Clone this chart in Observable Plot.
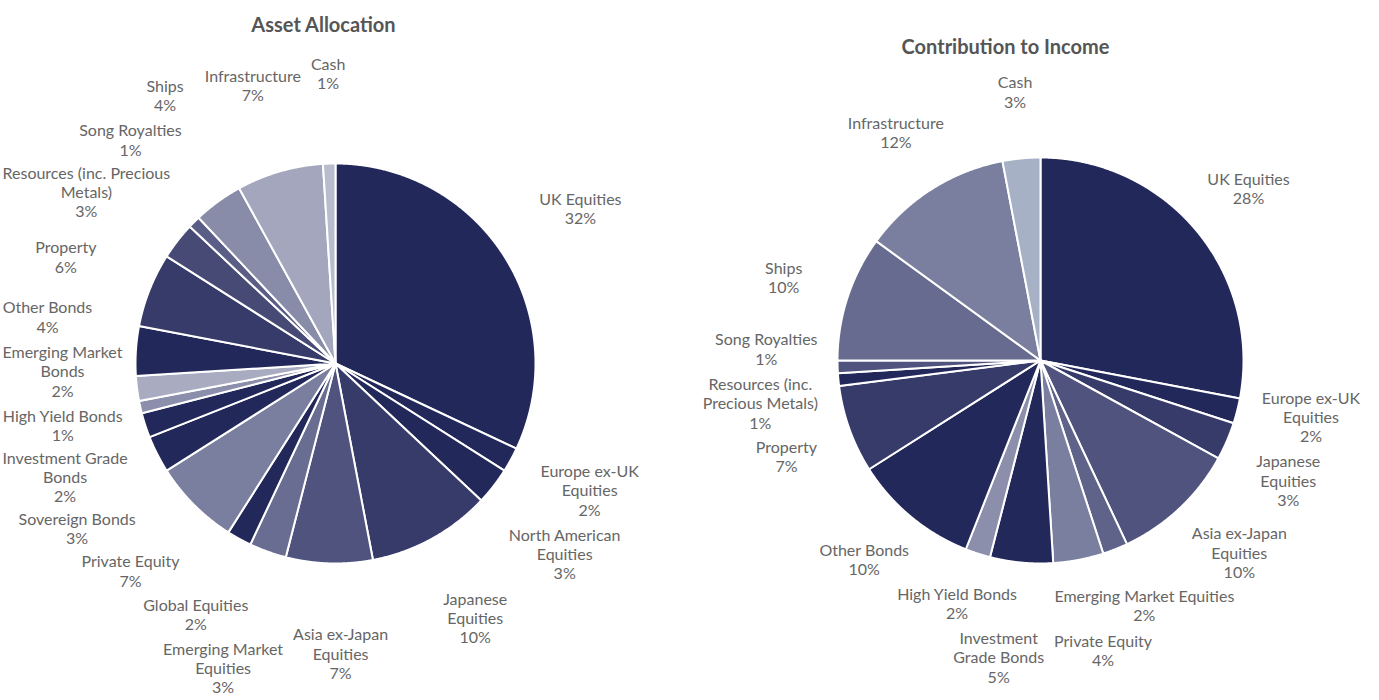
<!DOCTYPE html>
<html><head><meta charset="utf-8">
<script src="https://cdn.jsdelivr.net/npm/d3@7"></script>
<script src="https://cdn.jsdelivr.net/npm/@observablehq/plot@0.6"></script>
<style>
html,body{margin:0;padding:0;background:#fff;font-family:Lato,"Open Sans",sans-serif}
#wrap{display:flex;width:1379px;height:700px;overflow:hidden}
#wrap svg{display:block}
</style></head><body><div id="wrap"></div>
<script>
// ---------- Asset Allocation ----------
const allocCategories = ["UK Equities","Europe ex-UK Equities","North American Equities","Japanese Equities","Asia ex-Japan Equities","Emerging Market Equities","Global Equities","Private Equity","Sovereign Bonds","Investment Grade Bonds","High Yield Bonds","Emerging Market Bonds","Other Bonds","Property","Resources (inc. Precious Metals)","Song Royalties","Ships","Infrastructure","Cash"];
const allocValues = [32,2,3,10,7,3,2,7,3,2,1,2,4,6,3,1,4,7,1];
const allocLabels = ["UK Equities","Europe ex-UK\nEquities","North American\nEquities","Japanese\nEquities","Asia ex-Japan\nEquities","Emerging Market\nEquities","Global Equities","Private Equity","Sovereign Bonds","Investment Grade\nBonds","High Yield Bonds","Emerging Market\nBonds","Other Bonds","Property","Resources (inc. Precious\nMetals)","Song Royalties","Ships","Infrastructure","Cash"];
const allocColors = ["#23285b","#23285b","#23285b","#363b69","#4f537e","#696d92","#23285b","#7a7e9f","#23285b","#23285b","#8c8fab","#a9acc1","#23285b","#363b69","#464a75","#5a5e86","#888ca8","#a3a6bd","#b9bccd"];

// ---------- Contribution to Income ----------
const incomeCategories = ["UK Equities","Europe ex-UK Equities","Japanese Equities","Asia ex-Japan Equities","Emerging Market Equities","Private Equity","Investment Grade Bonds","High Yield Bonds","Other Bonds","Property","Resources (inc. Precious Metals)","Song Royalties","Ships","Infrastructure","Cash"];
const incomeValues = [28,2,3,10,2,4,5,2,10,7,1,1,10,12,3];
const incomeLabels = ["UK Equities","Europe ex-UK\nEquities","Japanese\nEquities","Asia ex-Japan\nEquities","Emerging Market Equities","Private Equity","Investment\nGrade Bonds","High Yield Bonds","Other Bonds","Property","Resources (inc.\nPrecious Metals)","Song Royalties","Ships","Infrastructure","Cash"];
const incomeColors = ["#23285b","#23285b","#363b69","#4f537e","#5f6389","#7a7e9f","#23285b","#8c8fab","#23285b","#363b69","#23285b","#4f537e","#676b90","#7b7f9f","#a7b1c6"];

const FONT = "Lato";
const FS = 16, LINE_PX = 19.3, LH = LINE_PX / FS;
const TEXT_COLOR = "#666666";
const TITLE_COLOR = "#555555";
const H = 700;

const ctx = document.createElement("canvas").getContext("2d");
ctx.font = `${FS}px ${FONT}`;

function layoutLabels(texts, mids, W, cx, cy, r, k, padY) {
  const items = texts.map((t, i) => {
    const lines = t.split("\n");
    const w = d3.max(lines, l => ctx.measureText(l).width) + 4;
    const h = lines.length * LINE_PX;
    const a = mids[i];
    const tx = cx + k * r * Math.sin(a), ty = cy - k * r * Math.cos(a);
    return {x: tx, y: ty, tx, ty, w, h};
  });
  const padX = 6, gap = 18;
  for (let it = 0; it < 400; ++it) {
    for (const b of items) { b.x += (b.tx - b.x) * 0.03; b.y += (b.ty - b.y) * 0.03; }
    for (let i = 0; i < items.length; ++i) for (let j = i + 1; j < items.length; ++j) {
      const A = items[i], B = items[j];
      const dx = B.x - A.x, dy = B.y - A.y;
      const ox = (A.w + B.w) / 2 + padX - Math.abs(dx);
      const oy = (A.h + B.h) / 2 + padY - Math.abs(dy);
      if (ox > 0 && oy > 0) {
        if (oy <= ox) { const s = dy >= 0 ? 1 : -1; A.y -= s * oy / 2; B.y += s * oy / 2; }
        else { const s = dx >= 0 ? 1 : -1; A.x -= s * ox / 2; B.x += s * ox / 2; }
      }
    }
    for (const b of items) {
      const nx = Math.max(b.x - b.w / 2, Math.min(cx, b.x + b.w / 2));
      const ny = Math.max(b.y - b.h / 2, Math.min(cy, b.y + b.h / 2));
      const d = Math.hypot(nx - cx, ny - cy);
      if (d < r + gap) {
        const vx = b.x - cx, vy = b.y - cy, vl = Math.hypot(vx, vy) || 1;
        const push = r + gap - d;
        b.x += vx / vl * push; b.y += vy / vl * push;
      }
      b.x = Math.max(b.w / 2, Math.min(W - b.w / 2, b.x));
      b.y = Math.max(b.h / 2 + 2, Math.min(H - b.h / 2 - 2, b.y));
    }
  }
  return items;
}

function pieChart({title, categories, values, labels, colors, W, cx, cy, r, k, padY, titleY, titleX}) {
  const arcs = d3.pie().sort(null).value(d => d)(values);
  const slices = [];
  arcs.forEach((a, i) => {
    const n = Math.max(2, Math.ceil((a.endAngle - a.startAngle) / (Math.PI / 720)) + 1);
    slices.push({id: categories[i], color: colors[i], x: 0, y: 0});
    for (let s = 0; s < n; ++s) {
      const t = a.startAngle + (a.endAngle - a.startAngle) * s / (n - 1);
      slices.push({id: categories[i], color: colors[i], x: Math.sin(t), y: Math.cos(t)});
    }
    slices.push({id: categories[i], color: colors[i], x: 0, y: 0});
  });
  const mids = arcs.map(a => (a.startAngle + a.endAngle) / 2);
  const texts = labels.map((l, i) => `${l}\n${values[i]}%`);
  const boxes = layoutLabels(texts, mids, W, cx, cy, r, k, padY);
  const labelRows = texts.map((t, i) => ({text: t, x: (boxes[i].x - cx) / r, y: (cy - boxes[i].y) / r}));
  return Plot.plot({
    width: W, height: H, margin: 0,
    style: {fontFamily: FONT, background: "white", overflow: "visible"},
    x: {domain: [-cx / r, (W - cx) / r], range: [0, W], axis: null},
    y: {domain: [-(H - cy) / r, cy / r], range: [H, 0], axis: null},
    color: {type: "identity"},
    marks: [
      Plot.line(slices, {x: "x", y: "y", z: "id", fill: "color", stroke: "white", strokeWidth: 2, strokeLinejoin: "round", curve: "linear"}),
      Plot.text(labelRows, {x: "x", y: "y", text: "text", fill: TEXT_COLOR, fontSize: FS, lineHeight: LH, textAnchor: "middle", lineAnchor: "middle"}),
      Plot.text([title], {frameAnchor: "top", dy: titleY, dx: titleX - W / 2, lineAnchor: "middle", fontSize: 20, fontWeight: "bold", fill: TITLE_COLOR})
    ]
  });
}

const wrap = document.getElementById("wrap");
wrap.appendChild(pieChart({title: "Asset Allocation", categories: allocCategories, values: allocValues, labels: allocLabels, colors: allocColors, W: 690, cx: 335, cy: 363, r: 200, k: 1.45, padY: 6, titleY: 25, titleX: 323}));
wrap.appendChild(pieChart({title: "Contribution to Income", categories: incomeCategories, values: incomeValues, labels: incomeLabels, colors: incomeColors, W: 689, cx: 350, cy: 360, r: 203, k: 1.33, padY: 6, titleY: 47, titleX: 315}));
</script></body></html>
